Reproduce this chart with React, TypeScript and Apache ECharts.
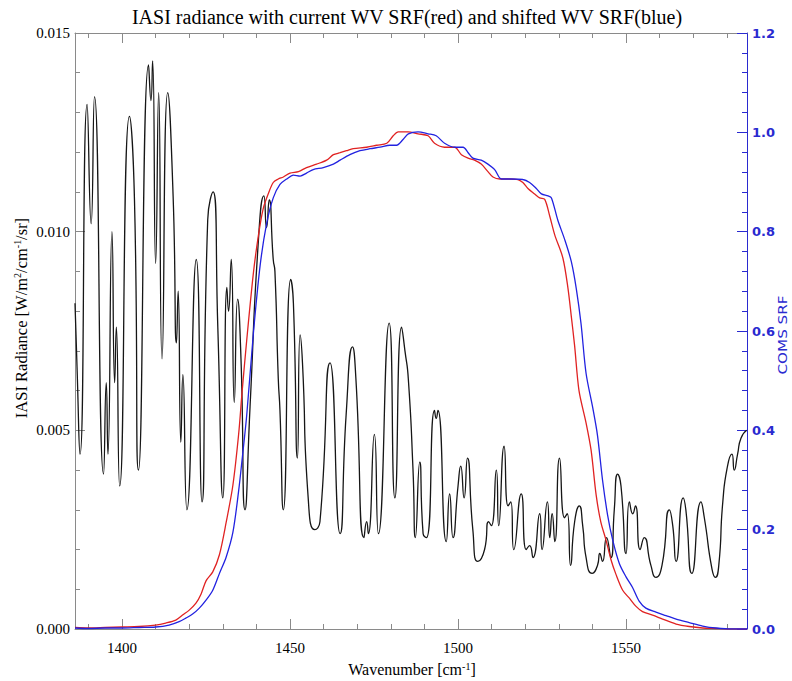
import React, { useEffect, useRef } from "react";
import * as echarts from "echarts";

// IASI radiance spectrum (wavenumber cm-1, radiance W/m2/cm-1/sr)
const radWn = [
  1386.0, 1386.6, 1387.5, 1389.6, 1390.8, 1391.8, 1394.5, 1395.3, 1395.8, 1397.0, 1397.8, 1398.3, 1399.3,
  1402.2, 1403.7, 1404.9, 1407.9, 1408.6, 1409.1, 1410.0, 1410.9, 1411.9, 1413.6, 1415.2, 1416.2, 1416.7,
  1417.5, 1418.1, 1419.3, 1422.1, 1423.8, 1425.5, 1427.1, 1428.5, 1430.0, 1431.2, 1431.7, 1432.5, 1433.4,
  1434.4, 1435.4, 1436.6, 1438.1, 1440.6, 1442.2, 1443.0, 1443.8, 1445.0, 1445.5, 1446.5, 1447.0, 1448.0,
  1450.2, 1451.0, 1452.2, 1453.0, 1453.7, 1455.4, 1457.4, 1458.9, 1461.9, 1464.9, 1466.7, 1468.6, 1469.6,
  1472.0, 1472.8, 1473.3, 1475.1, 1476.3, 1479.5, 1481.2, 1483.2, 1484.2, 1485.2, 1486.6, 1487.3, 1488.6,
  1489.6, 1490.6, 1493.0, 1493.5, 1494.0, 1496.5, 1497.5, 1498.5, 1500.0, 1500.8, 1501.8, 1502.8, 1504.4,
  1505.9, 1507.9, 1509.1, 1509.9, 1511.4, 1512.1, 1513.7, 1514.9, 1515.7, 1516.6, 1518.8, 1520.3, 1521.3,
  1522.3, 1524.3, 1525.0, 1526.6, 1527.3, 1528.0, 1528.8, 1530.2, 1531.7, 1532.5, 1533.5, 1534.7, 1536.1,
  1537.1, 1538.1, 1539.9, 1541.5, 1542.2, 1543.0, 1544.2, 1545.5, 1546.5, 1547.5, 1548.5, 1550.0, 1551.0,
  1552.0, 1552.8, 1554.2, 1555.4, 1557.4, 1558.9, 1560.7, 1562.9, 1563.9, 1564.9, 1567.0, 1567.8, 1569.6,
  1572.3, 1573.3, 1575.6, 1576.6, 1577.6, 1578.8, 1580.2, 1581.5, 1582.2, 1583.2, 1584.2, 1585.9,
];
const radVal = [
  0.0082, 0.0066, 0.0044, 0.0132, 0.0102, 0.0134, 0.0039, 0.0062, 0.0044, 0.0100, 0.0062, 0.0076, 0.0036,
  0.0129, 0.0108, 0.0040, 0.0142, 0.0133, 0.0143, 0.0092, 0.0135, 0.0068, 0.0135, 0.0109, 0.0072, 0.0085,
  0.0047, 0.0064, 0.0030, 0.0093, 0.0032, 0.0103, 0.0110, 0.0076, 0.0033, 0.0086, 0.0080, 0.0093, 0.0057,
  0.0083, 0.0068, 0.0030, 0.0056, 0.0098, 0.0109, 0.0101, 0.0108, 0.0093, 0.0090, 0.0063, 0.0055, 0.0030,
  0.0088, 0.0082, 0.0043, 0.0074, 0.0067, 0.0033, 0.0025, 0.0027, 0.0067, 0.0024, 0.0054, 0.0071, 0.0063,
  0.0023, 0.0027, 0.0024, 0.0049, 0.0024, 0.0077, 0.0033, 0.0076, 0.0070, 0.0063, 0.0040, 0.0023, 0.0042,
  0.0024, 0.0023, 0.0055, 0.0053, 0.0055, 0.0022, 0.0034, 0.0023, 0.0036, 0.0041, 0.0033, 0.0043, 0.0025,
  0.0017, 0.0020, 0.0027, 0.0026, 0.0040, 0.0026, 0.0046, 0.0031, 0.0032, 0.0020, 0.0034, 0.0020, 0.0021,
  0.0018, 0.0029, 0.0020, 0.0032, 0.0023, 0.0029, 0.0022, 0.0043, 0.0028, 0.0029, 0.0016, 0.0027, 0.0031,
  0.0026, 0.0018, 0.0014, 0.0016, 0.0019, 0.0017, 0.0023, 0.0018, 0.0030, 0.0039, 0.0036, 0.0019, 0.0032,
  0.0029, 0.0031, 0.0020, 0.0023, 0.0016, 0.0013, 0.0016, 0.0030, 0.0026, 0.0017, 0.0033, 0.0030, 0.0014,
  0.0032, 0.0028, 0.0015, 0.0013, 0.0016, 0.0032, 0.0041, 0.0044, 0.0040, 0.0044, 0.0048, 0.0050,
];

// Current WV SRF (red)
const redWn = [
  1386, 1390, 1395, 1400, 1405, 1410, 1413, 1416, 1418, 1420, 1422, 1423.5, 1425, 1427, 1429, 1431, 1433,
  1434.7, 1435.7, 1437.1, 1439.1, 1440.6, 1442.0, 1443.5, 1445.0, 1446.5, 1448.0, 1450.0, 1452.5, 1454.9,
  1457.9, 1460.9, 1462.9, 1464.9, 1466.8, 1468.8, 1472.8, 1475.8, 1478.8, 1480.7, 1482.2, 1485.1, 1488.1,
  1491.1, 1493.0, 1496.0, 1499.0, 1501.0, 1503.0, 1504.9, 1506.9, 1508.9, 1510.4, 1512.4, 1514.9, 1517.8,
  1519.3, 1520.8, 1522.8, 1524.3, 1525.8, 1527.3, 1528.8, 1531.2, 1532.7, 1533.7, 1534.7, 1536.0, 1538.1,
  1539.6, 1541.1, 1542.5, 1544.0, 1545.5, 1547.0, 1549.0, 1551.0, 1552.9, 1554.9, 1557.9, 1560.9, 1564.9,
  1568.8, 1572.8, 1576.8, 1580, 1586,
];
const redVal = [
  0.003, 0.002, 0.003, 0.004, 0.005, 0.008, 0.012, 0.018, 0.028, 0.038, 0.052, 0.07, 0.097, 0.115, 0.15, 0.215,
  0.29, 0.392, 0.475, 0.581, 0.717, 0.793, 0.846, 0.876, 0.899, 0.906, 0.91, 0.918, 0.921, 0.929, 0.936, 0.944,
  0.955, 0.959, 0.963, 0.967, 0.97, 0.974, 0.978, 0.993, 1.001, 1.001, 0.997, 0.993, 0.978, 0.97, 0.97, 0.955,
  0.948, 0.944, 0.936, 0.921, 0.91, 0.906, 0.906, 0.905, 0.899, 0.887, 0.876, 0.868, 0.865, 0.831, 0.793,
  0.747, 0.687, 0.63, 0.57, 0.48, 0.415, 0.36, 0.27, 0.215, 0.18, 0.14, 0.11, 0.078, 0.062, 0.046, 0.035,
  0.028, 0.02, 0.01, 0.005, 0.002, 0.001, 0.0, 0.0,
];

// Shifted WV SRF (blue)
const blueWn = [
  1386, 1390, 1395, 1400, 1405, 1410, 1414, 1417, 1419, 1421, 1423, 1425, 1427, 1429, 1431, 1433, 1434.7,
  1435.7, 1437.1, 1439.1, 1441.1, 1443.0, 1445.0, 1447.0, 1449.0, 1451.0, 1453.0, 1454.9, 1456.9, 1459.9,
  1462.9, 1464.9, 1467.8, 1470.8, 1473.8, 1476.8, 1479.7, 1481.7, 1483.7, 1485.2, 1488.1, 1491.1, 1493.5,
  1496.0, 1499.0, 1501.5, 1503.0, 1504.4, 1506.9, 1508.9, 1510.9, 1512.9, 1515.9, 1519.3, 1521.3, 1523.3,
  1524.8, 1526.8, 1527.8, 1529.7, 1531.7, 1533.7, 1535.2, 1536.6, 1538.1, 1540.1, 1541.5, 1543.0, 1544.5,
  1546.0, 1548.0, 1550.0, 1551.9, 1553.9, 1555.9, 1558.9, 1561.9, 1564.9, 1568.8, 1572.8, 1576.8, 1581.7, 1586,
];
const blueVal = [
  0.002, 0.001, 0.002, 0.002, 0.003, 0.004, 0.008, 0.015, 0.022, 0.03, 0.042, 0.058, 0.078, 0.112, 0.145, 0.195,
  0.278, 0.339, 0.43, 0.596, 0.732, 0.815, 0.868, 0.895, 0.906, 0.914, 0.912, 0.918, 0.925, 0.929, 0.936, 0.944,
  0.955, 0.963, 0.967, 0.97, 0.974, 0.974, 0.986, 0.997, 1.001, 0.997, 0.993, 0.978, 0.97, 0.97, 0.959, 0.948,
  0.944, 0.936, 0.925, 0.906, 0.906, 0.905, 0.899, 0.887, 0.876, 0.872, 0.868, 0.823, 0.785, 0.74, 0.685,
  0.615, 0.515, 0.445, 0.39, 0.3, 0.23, 0.18, 0.132, 0.105, 0.084, 0.056, 0.042, 0.034, 0.027, 0.02,
  0.013, 0.006, 0.002, 0.0, 0.0,
];

const xMajor = [1400, 1450, 1500, 1550];
const xMinor = [1390, 1410, 1420, 1430, 1440, 1460, 1470, 1480, 1490, 1510, 1520, 1530, 1540, 1560, 1570, 1580];

const SERIF = "Liberation Serif";
const BLUE = "#2a2ad0";
const AXIS_GRAY = "#8a8a8a";

export default function App() {
  const ref = useRef<HTMLDivElement>(null);

  useEffect(() => {
    if (!ref.current) return;
    const chart = echarts.init(ref.current, null, { renderer: "svg" });
    const xMin = 1386;
    const xMax = 1586;
    const mkX = (pos: string, vals: number[], len: number, labels: boolean, line: boolean) => ({
      type: "value",
      position: pos,
      min: xMin,
      max: xMax,
      axisLine: { show: line, onZero: false, lineStyle: { color: AXIS_GRAY, width: 1 } },
      axisTick: { show: true, inside: true, length: len, customValues: vals, lineStyle: { color: AXIS_GRAY, width: 1 } },
      axisLabel: labels
        ? {
            show: true,
            customValues: vals,
            color: "#000",
            fontFamily: SERIF,
            fontSize: 15,
            margin: 11,
            formatter: (v: number) => String(Math.round(v)),
          }
        : { show: false },
      splitLine: { show: false },
    });

    const option: any = {
      animation: false,
      grid: { left: 75, right: 45, top: 33, bottom: 52, containLabel: false },
      xAxis: [
        mkX("bottom", xMajor, 10, true, true),
        mkX("bottom", xMinor, 5, false, false),
        mkX("top", xMajor, 10, false, true),
        mkX("top", xMinor, 5, false, false),
      ],
      yAxis: [
        {
          type: "value",
          position: "left",
          min: 0,
          max: 0.015,
          interval: 0.005,
          axisLine: { show: true, onZero: false, lineStyle: { color: AXIS_GRAY, width: 1 } },
          axisTick: { show: true, inside: true, length: 10, lineStyle: { color: AXIS_GRAY } },
          minorTick: { show: true, splitNumber: 5, length: 5, lineStyle: { color: AXIS_GRAY } },
          axisLabel: {
            color: "#000",
            fontFamily: SERIF,
            fontSize: 15,
            margin: 5,
            formatter: (v: number) => v.toFixed(3),
          },
          splitLine: { show: false },
        },
        {
          type: "value",
          position: "right",
          min: 0,
          max: 1.2,
          interval: 0.2,
          axisLine: { show: true, onZero: false, lineStyle: { color: BLUE, width: 1 } },
          axisTick: { show: true, inside: true, length: 10, lineStyle: { color: BLUE } },
          minorTick: { show: true, splitNumber: 5, length: 5, lineStyle: { color: BLUE } },
          axisLabel: {
            color: BLUE,
            fontFamily: "DejaVu Sans",
            fontWeight: "bold",
            fontSize: 13,
            margin: 5,
            formatter: (v: number) => v.toFixed(1),
          },
          splitLine: { show: false },
        },
      ],
      series: [
        {
          type: "line",
          xAxisIndex: 0,
          yAxisIndex: 0,
          data: radWn.map((w, i) => [w, radVal[i]]),
          showSymbol: false,
          smooth: 0.6,
          lineStyle: { color: "#161616", width: 1.3 },
          z: 3,
        },
        {
          type: "line",
          xAxisIndex: 0,
          yAxisIndex: 1,
          data: redWn.map((w, i) => [w, redVal[i]]),
          showSymbol: false,
          smooth: 0.3,
          lineStyle: { color: "#e02222", width: 1.3 },
          z: 4,
        },
        {
          type: "line",
          xAxisIndex: 0,
          yAxisIndex: 1,
          data: blueWn.map((w, i) => [w, blueVal[i]]),
          showSymbol: false,
          smooth: 0.3,
          lineStyle: { color: "#2222e0", width: 1.3 },
          z: 4,
        },
      ],
      graphic: [
        {
          type: "text",
          x: 407,
          y: 17,
          style: {
            text: "IASI radiance with current WV SRF(red) and shifted WV SRF(blue)",
            fill: "#000",
            fontFamily: SERIF,
            fontSize: 20,
            align: "center",
            verticalAlign: "middle",
          },
        },
        {
          type: "text",
          x: 412,
          y: 669,
          style: {
            text: "Wavenumber [cm{sup|-1}]",
            fill: "#000",
            fontFamily: SERIF,
            fontSize: 16,
            align: "center",
            verticalAlign: "middle",
            rich: {
              sup: { fontFamily: SERIF, fontSize: 10, verticalAlign: "top", fill: "#000" },
            },
          },
        },
        {
          type: "text",
          x: 21,
          y: 318,
          rotation: Math.PI / 2,
          style: {
            text: "IASI Radiance [W/m{sup|2}/cm{sup|-1}/sr]",
            fill: "#000",
            fontFamily: SERIF,
            fontSize: 16.5,
            align: "center",
            verticalAlign: "middle",
            rich: {
              sup: { fontFamily: SERIF, fontSize: 10, verticalAlign: "top", fill: "#000" },
            },
          },
        },
        {
          type: "text",
          x: 783,
          y: 335,
          rotation: Math.PI / 2,
          scaleX: 1.3,
          style: {
            text: "COMS SRF",
            fill: BLUE,
            fontFamily: "Liberation Sans Narrow, DejaVu Sans Condensed, Liberation Sans, sans-serif",
            fontSize: 13,
            align: "center",
            verticalAlign: "middle",
          },
        },
      ],
    };
    chart.setOption(option);
    return () => chart.dispose();
  }, []);

  return <div ref={ref} style={{ width: 792, height: 681, position: "absolute", left: 0, top: 0 }} />;
}
